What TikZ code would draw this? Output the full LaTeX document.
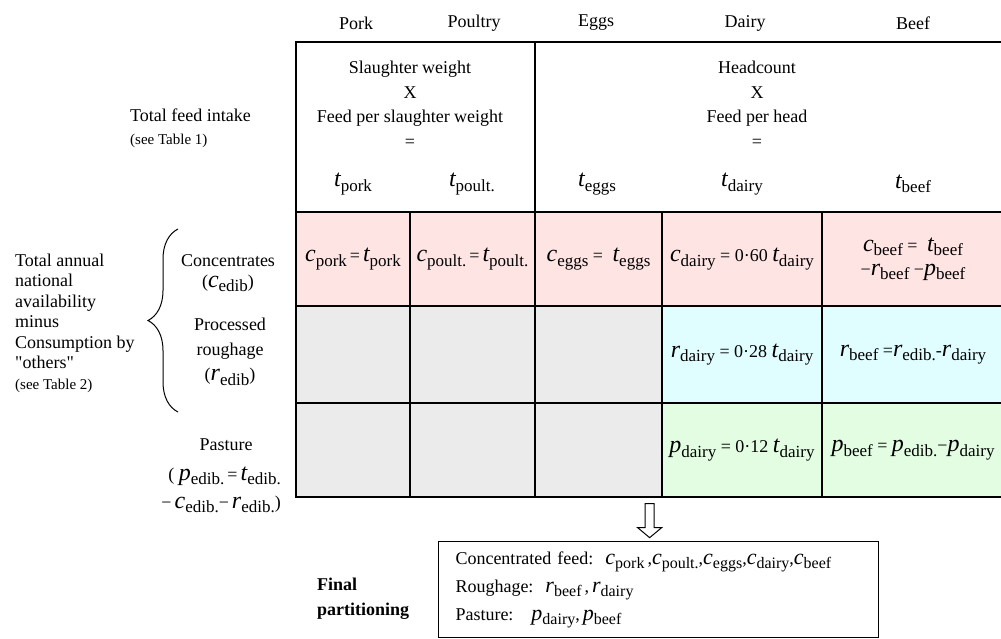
\documentclass[tikz,border=0pt]{standalone}
\usepackage{fontspec}
\setmainfont{Liberation Serif}
\newfontfamily\qfont{Liberation Serif}
\usetikzlibrary{decorations.pathreplacing}
\definecolor{cpink}{RGB}{255,228,228}
\definecolor{ccyan}{RGB}{224,253,255}
\definecolor{cgreen}{RGB}{226,253,226}
\definecolor{cgrey}{RGB}{235,235,235}
\newcommand\vv[2]{{\fontsize{24}{24}\selectfont\itshape #1}\raisebox{-4.5pt}{\fontsize{17}{17}\selectfont #2}}
\newcommand\vs[2]{{\fontsize{22}{22}\selectfont\itshape #1}\raisebox{-4pt}{\fontsize{16}{16}\selectfont #2}}
\newcommand\sq{{\qfont "}}
\begin{document}
\begin{tikzpicture}[x=1pt,y=-1pt,
  base/.style={font=\fontsize{18}{22}\selectfont, inner sep=0pt},
  cellbox/.style={base, draw, line width=1.3pt, align=center},
  hdrbox/.style={draw, line width=1.3pt, inner sep=0pt}]
\useasboundingbox (0,0) rectangle (1001,638);
\clip (0,0) rectangle (1001,638);
\fill[white] (0,0) rectangle (1001,638);

% column labels
\node[base] (lpork) at (356,23) {Pork};
\node[base] (lpoult) at (474,23) {Poultry};
\node[base] (leggs) at (596,23) {Eggs};
\node[base] (ldairy) at (745,23) {Dairy};
\node[base] (lbeef) at (913,23) {Beef};

% header blocks
\node[hdrbox, minimum width=239, minimum height=170] (hA) at (415.5,127) {};
\node[hdrbox, minimum width=469, minimum height=170] (hB) at (769.5,127) {};
\node[base, align=center, font=\fontsize{18}{24.5}\selectfont] (hAt) at (410,104) {Slaughter weight\\X\\Feed per slaughter weight\\=};
\node[base, align=center, font=\fontsize{18}{24.5}\selectfont] (hBt) at (757,104) {Headcount\\X\\Feed per head\\=};
\node[base] (tpork) at (353,184) {\vv{t}{pork}};
\node[base] (tpoult) at (472,184) {\vv{t}{poult.}};
\node[base] (teggs) at (597,184) {\vv{t}{eggs}};
\node[base] (tdairy) at (742,184) {\vv{t}{dairy}};
\node[base] (tbeef) at (913,184) {\vv{t}{beef}};

% row 1: concentrates
\node[cellbox, fill=cpink, minimum width=114, minimum height=94] (c1) at (353,259) {\vv{c}{pork}\,=\,\vv{t}{pork}};
\node[cellbox, fill=cpink, minimum width=125, minimum height=94] (c2) at (472.5,259) {\vv{c}{poult.}\,=\,\vv{t}{poult.}};
\node[cellbox, fill=cpink, minimum width=127, minimum height=94] (c3) at (598.5,259) {\vv{c}{eggs} =\; \vv{t}{eggs}};
\node[cellbox, fill=cpink, minimum width=160, minimum height=94] (c4) at (742,259) {\vv{c}{dairy} = 0·60 \vv{t}{dairy}};
\node[cellbox, fill=cpink, minimum width=182, minimum height=94, font=\fontsize{18}{24}\selectfont] (c5) at (913,259) {\vv{c}{beef} =\; \vv{t}{beef}\\ −\vv{r}{beef} −\vv{p}{beef}};

% row 2: processed roughage
\node[cellbox, fill=cgrey, minimum width=114, minimum height=97] (r1) at (353,354.5) {};
\node[cellbox, fill=cgrey, minimum width=125, minimum height=97] (r2) at (472.5,354.5) {};
\node[cellbox, fill=cgrey, minimum width=127, minimum height=97] (r3) at (598.5,354.5) {};
\node[cellbox, fill=ccyan, minimum width=160, minimum height=97] (r4) at (742,354.5) {\vv{r}{dairy} = 0·28 \vv{t}{dairy}};
\node[cellbox, fill=ccyan, minimum width=182, minimum height=97] (r5) at (913,354.5) {\vv{r}{beef} =\vv{r}{edib.}-\vv{r}{dairy}};

% row 3: pasture
\node[cellbox, fill=cgrey, minimum width=114, minimum height=94] (p1) at (353,450) {};
\node[cellbox, fill=cgrey, minimum width=125, minimum height=94] (p2) at (472.5,450) {};
\node[cellbox, fill=cgrey, minimum width=127, minimum height=94] (p3) at (598.5,450) {};
\node[cellbox, fill=cgreen, minimum width=160, minimum height=94] (p4) at (742,450) {\vv{p}{dairy} = 0·12 \vv{t}{dairy}};
\node[cellbox, fill=cgreen, minimum width=182, minimum height=94] (p5) at (913,450) {\vv{p}{beef} = \vv{p}{edib.}−\vv{p}{dairy}};

% left labels
\node[base, align=left, anchor=west, font=\fontsize{18}{23}\selectfont] (tfi) at (130,128) {Total feed intake\\{\fontsize{15}{15}\selectfont (see Table 1)}};
\node[base, align=left, anchor=west, font=\fontsize{18}{20.5}\selectfont] (tan) at (15,323) {Total annual\\national\\availability\\minus\\Consumption by\\\sq others\sq\\{\fontsize{15}{15}\selectfont (see Table 2)}};
\node[base, align=center, font=\fontsize{18}{21}\selectfont] (conc) at (228,273) {Concentrates\\(\vv{c}{edib})};
\node[base, align=center, font=\fontsize{18}{25}\selectfont] (proc) at (230,352) {Processed\\roughage\\ (\vv{r}{edib})};
\node[base] (past) at (226,445) {Pasture};
\node[base, align=right, anchor=east, font=\fontsize{18}{28}\selectfont] (pastf) at (281,490) {( \vv{p}{edib.}\,=\,\vv{t}{edib.}\\ −\,\vv{c}{edib.}−\,\vv{r}{edib.})};

% brace
\coordinate (bt) at (178,229);
\coordinate (bb) at (178,412);
\draw[line width=1pt, decorate, decoration={brace, amplitude=30pt, aspect=0.5}] (bb) -- (bt);

% final partitioning
\node[base, align=left, anchor=west, font=\fontsize{18}{25}\selectfont\bfseries] (fp) at (317,599) {Final\\partitioning};
\node[draw, line width=1pt, anchor=north west, minimum width=440, minimum height=96, text width=406, inner xsep=17pt, inner ysep=0pt, align=left, font=\fontsize{18}{28}\selectfont] (fbox) at (438,541) {Concentrated feed:\ \ \vs{c}{pork}\,,\vs{c}{poult.},\vs{c}{eggs},\vs{c}{dairy},\vs{c}{beef}\\Roughage:\ \ \vs{r}{beef}\,,\,\vs{r}{dairy}\\Pasture:\ \ \ \vs{p}{dairy},\,\vs{p}{beef}};

% hollow block arrow from table down to the box
\coordinate (atop) at ([xshift=-17.5pt,yshift=-6pt]p3.south east);
\draw[line width=1pt, fill=white] (atop) -- ++(9,0) -- ++(0,24) -- ++(7.5,0) -- ++(-12,10) -- ++(-12,-10) -- ++(7.5,0) -- cycle;
\end{tikzpicture}
\end{document}
